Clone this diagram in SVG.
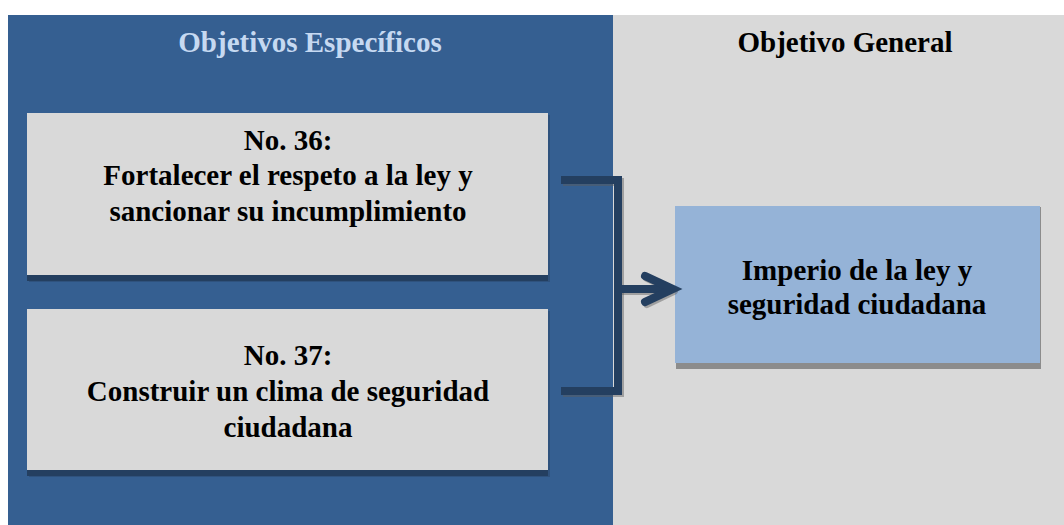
<svg xmlns="http://www.w3.org/2000/svg" width="1064" height="525" viewBox="0 0 1064 525">
<style>
.t{font-family:"Liberation Serif","Times New Roman",serif;font-weight:bold;font-size:29px;text-anchor:middle}
.dark{fill:#000}
.conn{fill:none;stroke:#243f60;stroke-width:8}
.sh{fill:none;stroke:#5a5a5a;stroke-opacity:0.45;stroke-width:8}
</style>
<rect x="0" y="0" width="1064" height="525" fill="#ffffff"/>
<g id="panel-specificos">
<rect x="8" y="15" width="605" height="510" fill="#355f91"/>
<text class="t" x="310" y="52" fill="#c6d9f1">Objetivos Específicos</text>
</g>
<g id="panel-general">
<rect x="613" y="15" width="451" height="510" fill="#d9d9d9"/>
<text class="t dark" x="845" y="52">Objetivo General</text>
</g>
<g id="node-36">
<rect x="29" y="115" width="521" height="167" fill="#2b4a6f" opacity="0.6"/>
<rect x="27" y="113" width="521" height="168" fill="#243f60"/>
<rect x="27" y="113" width="521" height="162" fill="#d9d9d9"/>
<text class="t dark" x="288" y="150">No. 36:</text>
<text class="t dark" x="288" y="185">Fortalecer el respeto a la ley y</text>
<text class="t dark" x="288" y="221">sancionar su incumplimiento</text>
</g>
<g id="node-37">
<rect x="29" y="311" width="521" height="166" fill="#2b4a6f" opacity="0.6"/>
<rect x="27" y="309" width="521" height="167" fill="#243f60"/>
<rect x="27" y="309" width="521" height="161" fill="#d9d9d9"/>
<text class="t dark" x="288" y="365">No. 37:</text>
<text class="t dark" x="288" y="401">Construir un clima de seguridad</text>
<text class="t dark" x="288" y="437">ciudadana</text>
</g>
<g id="node-general">
<rect x="676" y="207" width="365" height="162" fill="#8c8c8c"/>
<rect x="675" y="206" width="365" height="157" fill="#95b3d7"/>
<text class="t dark" x="857" y="280">Imperio de la ley y</text>
<text class="t dark" x="857" y="314">seguridad ciudadana</text>
</g>
<g id="connectors">
<path class="sh" d="M563 182 H620 V393 H563"/>
<path class="sh" d="M620 291 H672 M647 278 L674 291 L647 304" stroke-linecap="round" stroke-linejoin="round"/>
<path class="conn" d="M561 180 H618 V391 H561" stroke-linejoin="miter"/>
<path class="conn" d="M618 289 H672"/>
<path class="conn" d="M645 276 L673 289 L645 302" stroke-linecap="round" stroke-linejoin="miter"/>
</g>
</svg>
